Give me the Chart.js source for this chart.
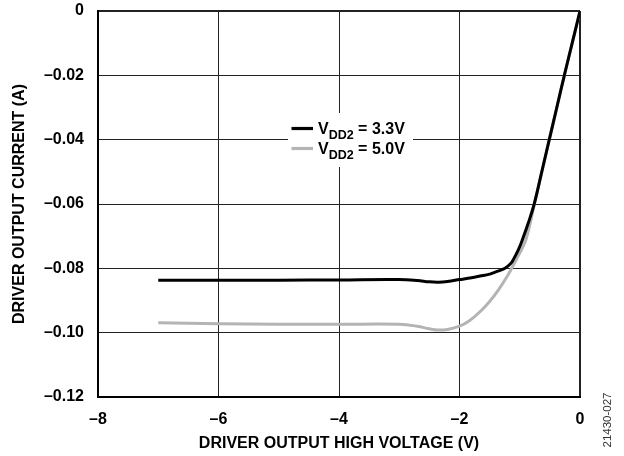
<!DOCTYPE html>
<html>
<head>
<meta charset="utf-8">
<script src="https://cdn.jsdelivr.net/npm/chart.js@4/dist/chart.umd.min.js"></script>
<style>
  html, body { margin: 0; padding: 0; background: #fff; }
  #wrap { position: relative; width: 624px; height: 456px; }
</style>
</head>
<body>
<div id="wrap"><canvas id="chart" width="624" height="456"></canvas></div>
<script>
// driver output current vs. high-side output voltage, two supply levels
const vdd33Volts = [-7.0, -6.0, -5.0, -4.0, -3.0, -2.7, -2.5, -2.35, -2.2, -2.0, -1.8, -1.66, -1.5, -1.44, -1.35, -1.245, -1.15, -1.107, -1.02, -0.954, -0.86, -0.76, -0.635, -0.51, -0.385, -0.26, -0.13, 0];
const vdd33Amps  = [-0.0837, -0.0837, -0.0837, -0.0836, -0.0835, -0.0838, -0.0842, -0.0843, -0.0841, -0.0835, -0.0829, -0.0824, -0.0818, -0.0814, -0.0808, -0.0800, -0.0785, -0.0773, -0.0741, -0.0710, -0.0660, -0.0600, -0.0500, -0.0400, -0.0300, -0.0200, -0.0100, 0];

const vdd50Volts = [-7.0, -6.0, -5.0, -4.0, -3.0, -2.7, -2.5, -2.35, -2.2, -2.0, -1.83, -1.66, -1.5, -1.35, -1.2, -1.134, -1.05, -0.96, -0.896, -0.83, -0.76, -0.635, -0.51, -0.385, -0.26, -0.13, 0];
const vdd50Amps  = [-0.0969, -0.0972, -0.0974, -0.0974, -0.0974, -0.0980, -0.0988, -0.0992, -0.0990, -0.0980, -0.0962, -0.0935, -0.0903, -0.0866, -0.0822, -0.0800, -0.0770, -0.0738, -0.0710, -0.0662, -0.0603, -0.0502, -0.0400, -0.0300, -0.0200, -0.0100, 0];

const seriesNames = ['3.3V', '5.0V'];
const seriesColors = ['#000000', '#b4b4b4'];

const FONT = "'Liberation Sans', Arial, sans-serif";
const dash = (v, digits) => v === 0 ? '0' : (v < 0 ? '\u2013' : '') + Math.abs(v).toFixed(digits);
const pts = (xs, ys) => xs.map((x, i) => ({ x, y: ys[i] }));

// legend with subscripted V_DD2, sits on a white patch over the grid
const vddLegend = {
  id: 'vddLegend',
  beforeDatasetsDraw(chart) {
    const c = chart.ctx;
    c.save();
    c.fillStyle = '#fff';
    c.fillRect(288, 113, 125, 54);
    seriesNames.forEach((name, i) => {
      const base = 133.5 + i * 20;
      c.strokeStyle = seriesColors[i];
      c.lineWidth = 3.2;
      c.beginPath();
      c.moveTo(291.5, base - 5);
      c.lineTo(313, base - 5);
      c.stroke();
      c.fillStyle = '#000';
      c.textBaseline = 'alphabetic';
      c.textAlign = 'left';
      let x = 318;
      c.font = 'bold 16px ' + FONT;
      c.fillText('V', x, base);
      x += c.measureText('V').width;
      c.font = 'bold 12.5px ' + FONT;
      c.fillText('DD2', x, base + 5);
      x += c.measureText('DD2').width;
      c.font = 'bold 16px ' + FONT;
      c.fillText(' = ' + name, x, base);
    });
    c.restore();
  },
  afterDraw(chart) {
    // figure number along the right edge
    const c = chart.ctx;
    c.save();
    c.translate(607.5, 420);
    c.rotate(-Math.PI / 2);
    c.font = '11.5px ' + FONT;
    c.fillStyle = '#333';
    c.textAlign = 'center';
    c.textBaseline = 'middle';
    c.fillText('21430-027', 0, 0);
    c.restore();
  }
};

const edgeWidth = (ctx) => ctx.tick && ctx.tick.value === 0 ? 2 : 1;

new Chart(document.getElementById('chart'), {
  type: 'line',
  data: {
    datasets: [
      { label: 'VDD2 = 3.3V', data: pts(vdd33Volts, vdd33Amps), borderColor: seriesColors[0], borderWidth: 3, pointRadius: 0, tension: 0.4, fill: false },
      { label: 'VDD2 = 5.0V', data: pts(vdd50Volts, vdd50Amps), borderColor: seriesColors[1], borderWidth: 3, pointRadius: 0, tension: 0.4, fill: false },
    ],
  },
  options: {
    responsive: false,
    animation: false,
    devicePixelRatio: 1,
    layout: { padding: { top: 11, right: 44, left: 0, bottom: 0 } },
    plugins: { legend: { display: false }, tooltip: { enabled: false } },
    scales: {
      x: {
        type: 'linear',
        min: -8,
        max: 0,
        afterFit: (s) => { s.height = 59; s.paddingLeft = 0; s.paddingRight = 0; },
        ticks: { stepSize: 2, padding: 13, color: '#000', font: { family: FONT, size: 16, weight: 'bold' }, callback: (v) => dash(v, 0) },
        grid: { color: '#222', lineWidth: edgeWidth, drawTicks: false },
        border: { color: '#000', width: 2 },
        title: { display: true, text: 'DRIVER OUTPUT HIGH VOLTAGE (V)', color: '#000', font: { family: FONT, size: 16, weight: 'bold' }, padding: { top: 0, bottom: 3 } },
      },
      y: {
        type: 'linear',
        min: -0.12,
        max: 0,
        afterFit: (s) => { s.width = 98; s.paddingTop = 0; s.paddingBottom = 0; },
        ticks: { stepSize: 0.02, padding: 14, color: '#000', font: { family: FONT, size: 16, weight: 'bold' }, callback: (v) => dash(v, 2) },
        grid: { color: '#222', lineWidth: edgeWidth, drawTicks: false },
        border: { color: '#000', width: 2 },
        title: { display: true, text: 'DRIVER OUTPUT CURRENT (A)', color: '#000', font: { family: FONT, size: 16, weight: 'bold' }, padding: { top: 10, bottom: 0 } },
      },
    },
  },
  plugins: [vddLegend],
});
</script>
</body>
</html>
